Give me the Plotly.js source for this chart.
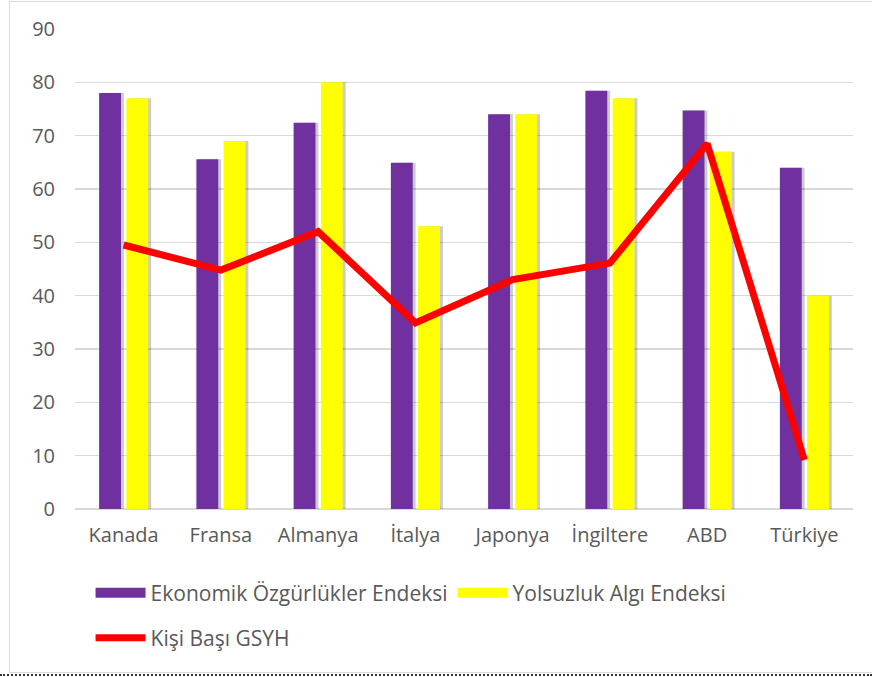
<!DOCTYPE html>
<html>
<head>
<meta charset="utf-8">
<script src="https://cdn.plot.ly/plotly-3.0.1.min.js"></script>
<style>
html,body{margin:0;padding:0;background:#fff;}
#wrap{position:relative;width:872px;height:677px;overflow:hidden;}
#chart{position:absolute;left:0;top:0;width:872px;height:677px;}
#frame{position:absolute;left:9px;top:1px;width:900px;height:670px;border:1px solid #d9d9d9;pointer-events:none;}
#dash{position:absolute;left:0;top:674px;width:872px;height:0;border-top:2px dotted #333;pointer-events:none;}
</style>
</head>
<body>
<div id="wrap">
<div id="chart"></div>
<div id="frame"></div>
<div id="dash"></div>
</div>
<script>
const countries = ["Kanada","Fransa","Almanya","İtalya","Japonya","İngiltere","ABD","Türkiye"];
const ekonomikOzgurluk = [78, 65.6, 72.4, 64.9, 74, 78.4, 74.7, 64];
const yolsuzlukAlgi = [77, 69, 80, 53, 74, 77, 67, 40];
const kisiBasiGSYH = [49.5, 44.8, 52, 34.9, 43, 46.1, 68.5, 9.2];
const seriesNames = ["Ekonomik Özgürlükler Endeksi", "Yolsuzluk Algı Endeksi", "Kişi Başı GSYH"];

const FONT = "'Open Sans', Lato, sans-serif";
const TXT = "#595959";
const barW = 0.225, purpleOff = -0.252, yellowOff = 0.028, shOff = 0.03;

const traces = [
  {type:'bar', x:countries, y:ekonomikOzgurluk, width:barW, offset:purpleOff+shOff,
   marker:{color:'rgba(0,0,0,0.2)'}, showlegend:false, hoverinfo:'skip'},
  {type:'bar', x:countries, y:yolsuzlukAlgi, width:barW, offset:yellowOff+shOff,
   marker:{color:'rgba(0,0,0,0.2)'}, showlegend:false, hoverinfo:'skip'},
  {type:'bar', name:seriesNames[0], x:countries, y:ekonomikOzgurluk, width:barW, offset:purpleOff,
   marker:{color:'#7030A0'}, showlegend:false},
  {type:'bar', name:seriesNames[1], x:countries, y:yolsuzlukAlgi, width:barW, offset:yellowOff,
   marker:{color:'#FFFF00'}, showlegend:false},
  {type:'scatter', mode:'lines', name:seriesNames[2], x:countries, y:kisiBasiGSYH,
   line:{color:'#FF0000', width:7}, showlegend:false},
  // legend entries
  {type:'scatter', mode:'lines', name:seriesNames[0], x:[null], y:[null],
   line:{color:'#7030A0', width:12}, legend:'legend'},
  {type:'scatter', mode:'lines', name:seriesNames[1], x:[null], y:[null],
   line:{color:'#FFFF00', width:12}, legend:'legend'},
  {type:'scatter', mode:'lines', name:seriesNames[2], x:[null], y:[null],
   line:{color:'#FF0000', width:7}, legend:'legend2'}
];

const layout = {
  width:872, height:677,
  margin:{l:75, r:19, t:29, b:168},
  paper_bgcolor:'rgba(0,0,0,0)', plot_bgcolor:'#fff',
  barmode:'overlay',
  font:{family:FONT, color:TXT, size:20},
  xaxis:{type:'category', showgrid:false, zeroline:false, showline:false, ticks:'',
    ticklabelstandoff:12, tickfont:{family:FONT, size:20, color:TXT}},
  yaxis:{range:[0,90], dtick:10, showgrid:true, gridcolor:'#d9d9d9', gridwidth:1.5,
    zeroline:true, zerolinecolor:'#d9d9d9', zerolinewidth:1.5, showline:false, ticks:'',
    ticklabelstandoff:19, tickfont:{family:FONT, size:20, color:TXT}},
  legend:{orientation:'h', x:0.02, xanchor:'left', y:-0.175, yanchor:'middle',
    itemwidth:50, font:{family:FONT, size:21, color:TXT}, bgcolor:'rgba(0,0,0,0)'},
  legend2:{orientation:'h', x:0.02, xanchor:'left', y:-0.269, yanchor:'middle',
    itemwidth:50, font:{family:FONT, size:21, color:TXT}, bgcolor:'rgba(0,0,0,0)'},
  showlegend:true
};

Plotly.newPlot('chart', traces, layout, {displayModeBar:false, staticPlot:true});
</script>
</body>
</html>
